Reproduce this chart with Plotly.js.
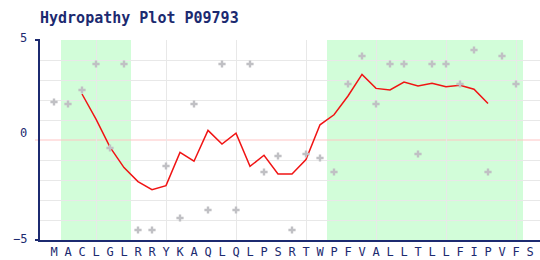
<!DOCTYPE html>
<html><head><meta charset="utf-8">
<script src="https://cdn.plot.ly/plotly-3.0.1.min.js"></script>
<style>html,body{margin:0;padding:0;background:#fff}#chart{width:540px;height:260px}</style>
</head><body><div id="chart"></div>
<script>
// ---- data ----
const residues = ["M","A","C","L","G","L","R","R","Y","K","A","Q","L","Q","L","P","S","R","T","W","P","F","V","A","L","L","T","L","L","F","I","P","V","F","S"];
const residueScores = [1.9,1.8,2.5,3.8,-0.4,3.8,-4.5,-4.5,-1.3,-3.9,1.8,-3.5,3.8,-3.5,3.8,-1.6,-0.8,-4.5,-0.7,-0.9,-1.6,2.8,4.2,1.8,3.8,3.8,-0.7,3.8,3.8,2.8,4.5,-1.6,4.2,2.8];
const windowFirstResidue = 2;
const windowScores = [2.30,1.04,-0.36,-1.38,-2.08,-2.48,-2.28,-0.62,-1.06,0.48,-0.20,0.34,-1.32,-0.76,-1.70,-1.70,-0.98,0.76,1.26,2.20,3.28,2.58,2.50,2.90,2.70,2.84,2.66,2.74,2.54,1.82];
const hydrophobicRegions = [[1,5],[20,33]];
const yTickValues = [5,0,-5];
const yTickLabels = ["5","0","\u22125"];

// ---- styling ----
const NAVY = "#1c2a70";
const GRID = "#e8e8e8";
const FONT = "DejaVu Sans Mono";
const xRange = [-1, 34.714];
const yRange = [-5, 5];
const yLabelShift = [2, 7, 1.5];

const residueIdx = residues.map((_, i) => i);
const scoreIdx = residueScores.map((_, i) => i);
const windowIdx = windowScores.map((_, i) => i + windowFirstResidue);

const traces = [
  {x: scoreIdx, y: residueScores, xaxis: "x2", yaxis: "y", type: "scatter", mode: "markers",
   marker: {symbol: "cross", size: 6, color: "#c0c0c4", line: {width: 0}}, hoverinfo: "skip"},
  {x: windowIdx, y: windowScores, xaxis: "x", yaxis: "y", type: "scatter", mode: "lines",
   line: {color: "#f01414", width: 1.5}, hoverinfo: "skip"}
];

const shapes = [];
hydrophobicRegions.forEach(r => shapes.push({type: "rect", xref: "x", yref: "paper",
  x0: r[0] - 0.5, x1: r[1] + 0.5, y0: 0, y1: 1, fillcolor: "#d2fdd9", line: {width: 0}, layer: "below"}));
shapes.push({type: "line", xref: "paper", yref: "y", x0: -0.01, x1: 1, y0: 0, y1: 0,
  line: {color: "#ffc4c4", width: 1}, layer: "below"});
[1, 0].forEach(p => shapes.push({type: "line", xref: "paper", yref: "paper", x0: -0.01, x1: 0, y0: p, y1: p,
  line: {color: NAVY, width: 2}, layer: "above"}));

const annotations = yTickValues.map((v, i) => ({
  xref: "paper", yref: "y", x: -0.022, y: v, xanchor: "right", yanchor: "middle",
  text: yTickLabels[i], showarrow: false, yshift: yLabelShift[i],
  font: {family: FONT, size: 12, color: NAVY}
}));

const gridTicks = [];
for (let v = yRange[0] + 1; v <= yRange[1]; v++) if (v !== 0) gridTicks.push(v);

const layout = {
  width: 540, height: 260,
  margin: {l: 40, r: 0, t: 40, b: 20, pad: 0},
  paper_bgcolor: "#ffffff", plot_bgcolor: "#ffffff",
  showlegend: false, hovermode: false,
  title: {text: "<b>Hydropathy Plot P09793</b>", font: {family: FONT, size: 15, color: NAVY},
    x: 40/540, xanchor: "left", xref: "container", y: 1 - 18/260, yanchor: "middle", yref: "container"},
  xaxis: {range: xRange, tickmode: "array", tickvals: residueIdx, ticktext: residues,
    showgrid: false, zeroline: false, ticks: "", showline: true, linecolor: NAVY, linewidth: 2,
    tickfont: {family: FONT, size: 12, color: NAVY}, fixedrange: true},
  xaxis2: {range: xRange, overlaying: "x", anchor: "y", tickmode: "linear", tick0: 3, dtick: 5,
    showgrid: true, gridcolor: GRID, gridwidth: 1, showticklabels: false, ticks: "",
    zeroline: false, showline: false, fixedrange: true},
  yaxis: {range: yRange, tickmode: "array", tickvals: gridTicks, showgrid: true, gridcolor: GRID,
    gridwidth: 1, showticklabels: false, ticks: "", zeroline: false, showline: true,
    linecolor: NAVY, linewidth: 2, fixedrange: true},
  shapes: shapes,
  annotations: annotations
};

Plotly.newPlot("chart", traces, layout, {staticPlot: true, displayModeBar: false});
</script>
</body></html>
